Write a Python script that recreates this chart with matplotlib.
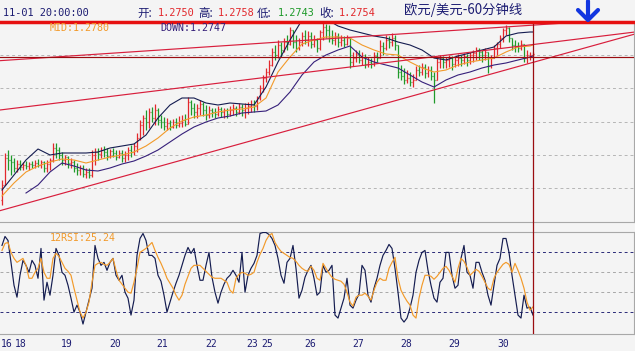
import numpy as np
import matplotlib
matplotlib.use("Agg")
import matplotlib.pyplot as plt
from matplotlib.collections import LineCollection
from matplotlib.lines import Line2D
from matplotlib.transforms import blended_transform_factory

# ---------------- data (prices in pips: value / 10000 = EUR/USD) ----------------
open_pips = [
    12315, 12360, 12441, 12435, 12429, 12411, 12423, 12414, 12420, 12417,
    12423, 12420, 12426, 12420, 12429, 12411, 12423, 12435, 12471, 12465,
    12450, 12435, 12444, 12426, 12429, 12411, 12405, 12411, 12393, 12399,
    12390, 12450, 12459, 12453, 12465, 12459, 12447, 12462, 12456, 12444,
    12456, 12441, 12450, 12465, 12459, 12477, 12501, 12540, 12561, 12549,
    12579, 12561, 12585, 12555, 12549, 12537, 12546, 12534, 12549, 12540,
    12546, 12555, 12543, 12609, 12591, 12579, 12591, 12603, 12585, 12570,
    12585, 12579, 12573, 12588, 12579, 12585, 12573, 12585, 12591, 12579,
    12594, 12585, 12591, 12597, 12603, 12597, 12621, 12651, 12681, 12699,
    12720, 12759, 12750, 12780, 12765, 12789, 12783, 12825, 12789, 12771,
    12789, 12807, 12795, 12807, 12783, 12795, 12771, 12819, 12834, 12825,
    12801, 12795, 12807, 12789, 12795, 12783, 12801, 12729, 12741, 12753,
    12735, 12744, 12723, 12729, 12723, 12747, 12741, 12777, 12771, 12795,
    12789, 12801, 12780, 12699, 12687, 12675, 12681, 12669, 12675, 12705,
    12699, 12714, 12696, 12705, 12687, 12675, 12729, 12741, 12729, 12735,
    12741, 12723, 12735, 12741, 12735, 12747, 12735, 12750, 12756, 12765,
    12759, 12750, 12759, 12717, 12741, 12771, 12783, 12801, 12825, 12831,
    12801, 12780, 12777, 12771, 12783, 12741, 12750, 12750]
high_pips = [
    12375, 12456, 12465, 12450, 12441, 12435, 12435, 12429, 12432, 12429,
    12432, 12435, 12438, 12435, 12432, 12435, 12441, 12486, 12486, 12474,
    12459, 12450, 12447, 12441, 12435, 12426, 12420, 12420, 12411, 12411,
    12465, 12471, 12471, 12474, 12477, 12471, 12468, 12471, 12465, 12465,
    12465, 12462, 12474, 12480, 12486, 12516, 12555, 12570, 12585, 12591,
    12594, 12603, 12591, 12570, 12564, 12561, 12555, 12558, 12561, 12567,
    12570, 12573, 12624, 12615, 12606, 12603, 12615, 12609, 12600, 12597,
    12591, 12591, 12597, 12594, 12591, 12591, 12597, 12603, 12597, 12606,
    12603, 12606, 12609, 12615, 12615, 12627, 12660, 12690, 12711, 12735,
    12771, 12780, 12795, 12789, 12801, 12810, 12834, 12825, 12810, 12801,
    12819, 12825, 12822, 12819, 12810, 12801, 12825, 12846, 12843, 12840,
    12825, 12819, 12816, 12810, 12807, 12810, 12801, 12759, 12765, 12765,
    12759, 12753, 12744, 12741, 12759, 12759, 12795, 12789, 12810, 12807,
    12816, 12810, 12780, 12720, 12711, 12705, 12699, 12693, 12717, 12720,
    12726, 12723, 12717, 12717, 12699, 12741, 12750, 12747, 12744, 12750,
    12747, 12744, 12753, 12750, 12756, 12753, 12759, 12765, 12774, 12771,
    12765, 12771, 12759, 12750, 12780, 12789, 12810, 12831, 12840, 12834,
    12801, 12795, 12789, 12795, 12783, 12765, 12759, 12758]
low_pips = [
    12300, 12360, 12405, 12390, 12399, 12399, 12405, 12405, 12408, 12405,
    12411, 12411, 12414, 12411, 12399, 12399, 12405, 12429, 12441, 12435,
    12420, 12420, 12411, 12411, 12399, 12390, 12390, 12384, 12381, 12381,
    12384, 12420, 12435, 12441, 12444, 12435, 12441, 12444, 12435, 12441,
    12429, 12429, 12435, 12444, 12450, 12459, 12495, 12510, 12525, 12531,
    12549, 12540, 12540, 12531, 12525, 12525, 12525, 12531, 12531, 12534,
    12534, 12537, 12543, 12570, 12561, 12561, 12570, 12567, 12555, 12561,
    12564, 12561, 12567, 12564, 12561, 12561, 12567, 12570, 12567, 12573,
    12567, 12561, 12573, 12579, 12579, 12585, 12615, 12639, 12669, 12690,
    12717, 12735, 12741, 12744, 12759, 12765, 12780, 12771, 12759, 12765,
    12777, 12783, 12777, 12771, 12774, 12759, 12765, 12795, 12801, 12789,
    12783, 12780, 12774, 12777, 12774, 12780, 12711, 12717, 12729, 12726,
    12720, 12711, 12714, 12711, 12717, 12729, 12741, 12750, 12765, 12771,
    12777, 12765, 12681, 12675, 12663, 12666, 12657, 12654, 12675, 12687,
    12690, 12681, 12684, 12675, 12606, 12675, 12711, 12711, 12711, 12714,
    12705, 12714, 12717, 12717, 12723, 12717, 12723, 12729, 12735, 12735,
    12729, 12735, 12696, 12711, 12741, 12750, 12771, 12789, 12810, 12789,
    12765, 12759, 12759, 12765, 12729, 12726, 12735, 12743]
close_pips = [
    12360, 12441, 12435, 12429, 12411, 12423, 12414, 12420, 12417, 12423,
    12420, 12426, 12420, 12429, 12411, 12423, 12435, 12471, 12465, 12450,
    12435, 12444, 12426, 12429, 12411, 12405, 12411, 12393, 12399, 12390,
    12450, 12459, 12453, 12465, 12459, 12447, 12462, 12456, 12444, 12456,
    12441, 12450, 12465, 12459, 12477, 12501, 12540, 12561, 12549, 12579,
    12561, 12585, 12555, 12549, 12537, 12546, 12534, 12549, 12540, 12546,
    12555, 12543, 12609, 12591, 12579, 12591, 12603, 12585, 12570, 12585,
    12579, 12573, 12588, 12579, 12585, 12573, 12585, 12591, 12579, 12594,
    12585, 12591, 12597, 12603, 12597, 12621, 12651, 12681, 12699, 12720,
    12759, 12750, 12780, 12765, 12789, 12783, 12825, 12789, 12771, 12789,
    12807, 12795, 12807, 12783, 12795, 12771, 12819, 12834, 12825, 12801,
    12795, 12807, 12789, 12795, 12783, 12801, 12729, 12741, 12753, 12735,
    12744, 12723, 12729, 12723, 12747, 12741, 12777, 12771, 12795, 12789,
    12801, 12780, 12699, 12687, 12675, 12681, 12669, 12675, 12705, 12699,
    12714, 12696, 12705, 12687, 12675, 12729, 12741, 12729, 12735, 12741,
    12723, 12735, 12741, 12735, 12747, 12735, 12750, 12756, 12765, 12759,
    12750, 12759, 12717, 12741, 12771, 12783, 12801, 12825, 12831, 12801,
    12780, 12777, 12771, 12783, 12741, 12750, 12750, 12754]

# Bollinger band readings (every 4th bar plus the last one)
band_bars = list(range(0, 177, 4)) + [177]
boll_up = [12345, 12390, 12435, 12468, 12450, 12456, 12456, 12456, 12459, 12471,
           12477, 12483, 12510, 12561, 12600, 12621, 12621, 12606, 12600, 12606,
           12603, 12600, 12654, 12729, 12795, 12855, 12870, 12858, 12837, 12825,
           12816, 12807, 12801, 12789, 12780, 12765, 12741, 12735, 12747, 12756,
           12765, 12774, 12807, 12816, 12819, 12819]
boll_mid = [12327, 12366, 12399, 12417, 12429, 12438, 12435, 12426, 12435, 12444,
            12450, 12459, 12477, 12501, 12531, 12552, 12564, 12570, 12579, 12585,
            12588, 12594, 12621, 12699, 12744, 12783, 12795, 12804, 12804, 12801,
            12780, 12765, 12753, 12750, 12729, 12711, 12699, 12705, 12720, 12729,
            12735, 12741, 12759, 12774, 12777, 12780]
boll_dn = [np.nan, np.nan, 12336, 12360, 12399, 12426, 12417, 12405, 12402, 12411,
           12423, 12432, 12447, 12465, 12489, 12513, 12534, 12549, 12561, 12567,
           12576, 12579, 12582, 12600, 12639, 12690, 12729, 12750, 12765, 12777,
           12744, 12729, 12720, 12711, 12690, 12669, 12654, 12675, 12690, 12699,
           12711, 12720, 12726, 12735, 12744, 12747]

rsi6 = [87, 96, 92, 70, 47, 35, 57, 72, 67, 60,
        72, 67, 54, 84, 32, 50, 37, 57, 84, 77,
        60, 57, 47, 34, 20, 27, 20, 8, 20, 32,
        44, 87, 74, 67, 70, 62, 70, 74, 57, 52,
        57, 40, 34, 17, 32, 77, 94, 99, 92, 77,
        77, 74, 57, 51, 37, 20, 30, 40, 49, 57,
        67, 77, 85, 79, 84, 67, 52, 52, 67, 80,
        55, 40, 29, 40, 48, 54, 57, 62, 57, 50,
        80, 40, 57, 64, 69, 77, 99, 100, 100, 98,
        94, 87, 74, 57, 49, 70, 74, 87, 64, 34,
        42, 55, 62, 67, 54, 37, 40, 67, 60, 62,
        67, 17, 14, 24, 34, 54, 27, 24, 32, 38,
        67, 62, 37, 30, 44, 54, 67, 77, 82, 88,
        84, 64, 40, 14, 10, 14, 24, 37, 60, 72,
        80, 82, 62, 47, 34, 30, 50, 54, 80, 80,
        57, 44, 47, 74, 87, 60, 57, 44, 70, 70,
        60, 52, 37, 27, 47, 67, 74, 94, 94, 80,
        57, 37, 17, 14, 37, 24, 25, 17]
rsi12 = [82, 89, 90, 80, 74, 70, 72, 74, 67, 54,
         54, 60, 64, 74, 60, 54, 54, 74, 79, 76,
         70, 64, 61, 57, 44, 32, 20, 14, 20, 30,
         50, 67, 69, 70, 68, 67, 70, 74, 62, 52,
         48, 44, 40, 39, 50, 64, 80, 82, 84, 87,
         90, 82, 75, 69, 62, 54, 49, 44, 37, 32,
         37, 48, 56, 64, 67, 67, 67, 64, 61, 58,
         55, 54, 54, 54, 52, 50, 42, 39, 54, 58,
         60, 59, 57, 58, 60, 70, 78, 84, 92, 97,
         99, 90, 85, 81, 79, 77, 75, 74, 71, 67,
         64, 62, 61, 66, 62, 54, 52, 69, 64, 59,
         55, 53, 52, 51, 48, 40, 30, 26, 35, 37,
         37, 39, 36, 32, 42, 50, 54, 52, 52, 64,
         70, 75, 54, 42, 36, 31, 27, 17, 14, 34,
         47, 57, 57, 56, 53, 56, 60, 64, 66, 62,
         56, 50, 64, 74, 71, 65, 57, 60, 63, 61,
         56, 50, 44, 42, 54, 60, 64, 68, 70, 68,
         60, 69, 62, 54, 44, 30, 22, 25.24]

day_labels = ['16', '18', '19', '20', '21', '22', '23', '25', '26', '27', '28', '29', '30']
day_bars = [-0.4, 4.3, 19.7, 35.7, 51.3, 67.7, 81.6, 86.3, 100.7, 116.7, 132.7, 148.7, 165]

# drawn lines: (bar, pips) anchor pairs
trend_lines = [((-0.67, 12283), (211, 12813)),
               ((-0.67, 12585), (211, 12819)),
               ((-0.67, 12733), (211, 12860))]
support_level = 12743
grid_levels = [12350, 12450, 12550, 12650, 12750]

header_time = '11-01 20:00:00'
hdr_open, hdr_high, hdr_low, hdr_close = '1.2750', '1.2758', '1.2743', '1.2754'
mid_text, down_text, rsi_text = 'MID:1.2780', 'DOWN:1.2747', '12RSI:25.24'
title = '欧元/美元-60分钟线'

# ---------------- styling ----------------
W, H = 635, 351
BG = '#f4f4f4'
RED, GREEN = '#e2282c', '#1f9a2a'
NAVY = '#141c50'
ORANGE = '#f29a2a'
PURPLE = '#36207a'
TREND = '#d81e3c'
DARKRED = '#9a0c10'
TXT = '#1c1c72'
MONO = ['DejaVu Sans Mono']
CJK = ['Noto Sans CJK SC', 'DejaVu Sans']

fig = plt.figure(figsize=(W / 100, H / 100), dpi=100)
fig.patch.set_facecolor(BG)


def fx(px):
    return px / W


def fy(py):
    return 1 - py / H


ax = fig.add_axes([0, fy(222), 634 / W, 200 / H])
ax2 = fig.add_axes([0, fy(334), 634 / W, 102 / H])
for a in (ax, ax2):
    a.set_facecolor(BG)
    a.set_xlim(-2 / 3, 632 / 3)
    a.set_xticks([])
    a.set_yticks([])
    for s in a.spines.values():
        s.set_visible(False)
ax.set_ylim(1.2249, 1.2849)
ax2.set_ylim(-2, 100.5)

for a, sides in ((ax, ('bottom', 'right')), (ax2, ('top', 'bottom', 'right'))):
    for sd in sides:
        a.spines[sd].set_visible(True)
        a.spines[sd].set_color('#a8a8a8')
        a.spines[sd].set_linewidth(0.8)

for g in grid_levels:
    ax.axhline(g / 1e4, color='#b6b6b6', lw=0.7, ls=(0, (3, 3)), zorder=1)
for g, col in ((80, '#2a2a78'), (60, '#a8a8a8'), (40, '#a8a8a8'), (20, '#2a2a78')):
    ax2.axhline(g, color=col, lw=0.7, ls=(0, (3, 3)), zorder=1)

# price bars
o = np.array(open_pips) / 1e4
h = np.array(high_pips) / 1e4
l = np.array(low_pips) / 1e4
c = np.array(close_pips) / 1e4
segs, cols = [], []
for i in range(len(c)):
    col = RED if c[i] >= o[i] else GREEN
    segs += [[(i, l[i]), (i, h[i])],
             [(i - 0.45, o[i]), (i, o[i])],
             [(i, c[i]), (i + 0.45, c[i])]]
    cols += [col] * 3
ax.add_collection(LineCollection(segs, colors=cols, linewidths=0.9, zorder=3))

bb = np.array(band_bars)
ax.plot(bb, np.array(boll_up) / 1e4, color=NAVY, lw=0.8, zorder=4)
ax.plot(bb, np.array(boll_mid) / 1e4, color=ORANGE, lw=0.8, zorder=4)
ax.plot(bb, np.array(boll_dn) / 1e4, color=PURPLE, lw=0.8, zorder=4)

for (x0, p0), (x1, p1) in trend_lines:
    ax.plot([x0, x1], [p0 / 1e4, p1 / 1e4], color=TREND, lw=0.85, zorder=5)
ax.axhline(support_level / 1e4, color=DARKRED, lw=0.85, zorder=5)

last = len(c) - 1
ax.axvline(last, ymin=-0.06, ymax=1, color=DARKRED, lw=0.9, zorder=6, clip_on=False)
ax2.axvline(last, color=DARKRED, lw=0.9, zorder=6)

# RSI
xi = np.arange(len(rsi6))
ax2.plot(xi, rsi6, color=NAVY, lw=0.85, zorder=4)
ax2.plot(xi, rsi12, color=ORANGE, lw=0.85, zorder=5)

# thick top line
fig.add_artist(Line2D([0, 1], [fy(22), fy(22)], color='#e61010', lw=2.5,
                      transform=fig.transFigure))

# blue arrow
for xs, ys in (([588, 588], [1, 19]), ([578, 588, 598], [10, 20, 10])):
    fig.add_artist(Line2D([fx(v) for v in xs], [fy(v) for v in ys], color='#1236e0',
                          lw=3.0, solid_capstyle='round', solid_joinstyle='round',
                          transform=fig.transFigure))


def ftext(px, py, s, color, family, size):
    fig.text(fx(px), fy(py), s, color=color, family=family, fontsize=size,
             ha='left', va='center')


ftext(3, 13, header_time, TXT, MONO, 7.4)
ftext(137, 13, '开:', TXT, CJK, 8.3)
ftext(158, 13, hdr_open, RED, MONO, 7.4)
ftext(198, 13, '高:', TXT, CJK, 8.3)
ftext(218, 13, hdr_high, RED, MONO, 7.4)
ftext(257, 13, '低:', TXT, CJK, 8.3)
ftext(278, 13, hdr_low, GREEN, MONO, 7.4)
ftext(319, 13, '收:', TXT, CJK, 8.3)
ftext(339, 13, hdr_close, RED, MONO, 7.4)
ftext(404, 10, title, TXT, CJK, 9.6)
ftext(50, 28, mid_text, ORANGE, MONO, 7.2)
ftext(160, 28, down_text, PURPLE, MONO, 7.2)
ftext(50, 238, rsi_text, ORANGE, MONO, 7.2)

tr = blended_transform_factory(ax2.transData, fig.transFigure)
for lab, pos in zip(day_labels, day_bars):
    ax2.text(pos, fy(344), lab, transform=tr, color=TXT, family=MONO, fontsize=7.0,
             ha='left', va='center', clip_on=False)

fig.savefig('out.png', dpi=100, facecolor=BG)
